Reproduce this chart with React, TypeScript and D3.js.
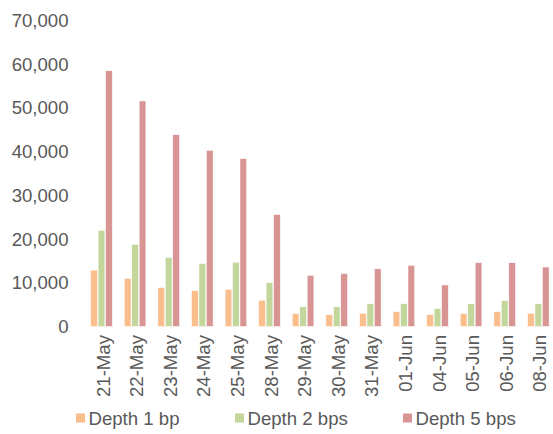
import React from "react";
import * as d3 from "d3";

const categories = ["21-May","22-May","23-May","24-May","25-May","28-May","29-May","30-May","31-May","01-Jun","04-Jun","05-Jun","06-Jun","08-Jun"];
const depth1 = [12900,11000,8900,8200,8500,6000,3000,2700,3000,3400,2700,3000,3400,3000];
const depth2 = [22000,18800,15800,14400,14700,10000,4500,4500,5200,5200,4100,5200,5900,5200];
const depth5 = [58500,51600,43900,40300,38400,25600,11700,12100,13200,14000,9500,14600,14600,13600];
const seriesNames = ["Depth 1 bp","Depth 2 bps","Depth 5 bps"];
const seriesColors = ["#F9BE8C","#C3D69B","#D99594"];
const yTicks = [0,10000,20000,30000,40000,50000,60000,70000];

export default function App() {
  const W = 553, H = 434;
  const series = [depth1, depth2, depth5];
  const x = d3.scaleBand<string>().domain(categories).range([84.7, 555.1]).padding(0);
  const xi = d3.scaleBand<number>().domain([0,1,2]).range([-10.8, 10.8]).paddingInner(0.1).paddingOuter(0);
  const y = d3.scaleLinear().domain([0,70000]).range([326.5, 20.5]);
  const fmt = d3.format(",");
  const font = "Liberation Sans, Arial, sans-serif";
  const fs = 18.6;
  const legendX = [76, 235, 403];
  return (
    <svg width={W} height={H} style={{position:"absolute", left:0, top:0, background:"#fff"}} fontFamily={font}>
      {yTicks.map(t => (
        <text key={t} x={68.5} y={y(t)} textAnchor="end" dominantBaseline="central" fontSize={fs} fill="#595959">{fmt(t)}</text>
      ))}
      {categories.map((c, i) => {
        const cx = x(c)! + x.bandwidth() / 2;
        return (
          <g key={c}>
            {series.map((s, k) => (
              <rect key={k} x={cx + xi(k)!} y={y(s[i])} width={xi.bandwidth()} height={y(0) - y(s[i])}
                fill={seriesColors[k]} stroke="#fff" strokeWidth={0.5} />
            ))}
            <text transform={`translate(${cx + 1.5},335) rotate(-90)`} textAnchor="end" dominantBaseline="central" fontSize={fs} fill="#595959">{c}</text>
          </g>
        );
      })}
      {seriesNames.map((n, k) => (
        <g key={n}>
          <rect x={legendX[k]} y={413.5} width={9} height={9} fill={seriesColors[k]} />
          <text x={legendX[k] + 12.5} y={418.5} dominantBaseline="central" fontSize={fs} fill="#595959">{n}</text>
        </g>
      ))}
    </svg>
  );
}
